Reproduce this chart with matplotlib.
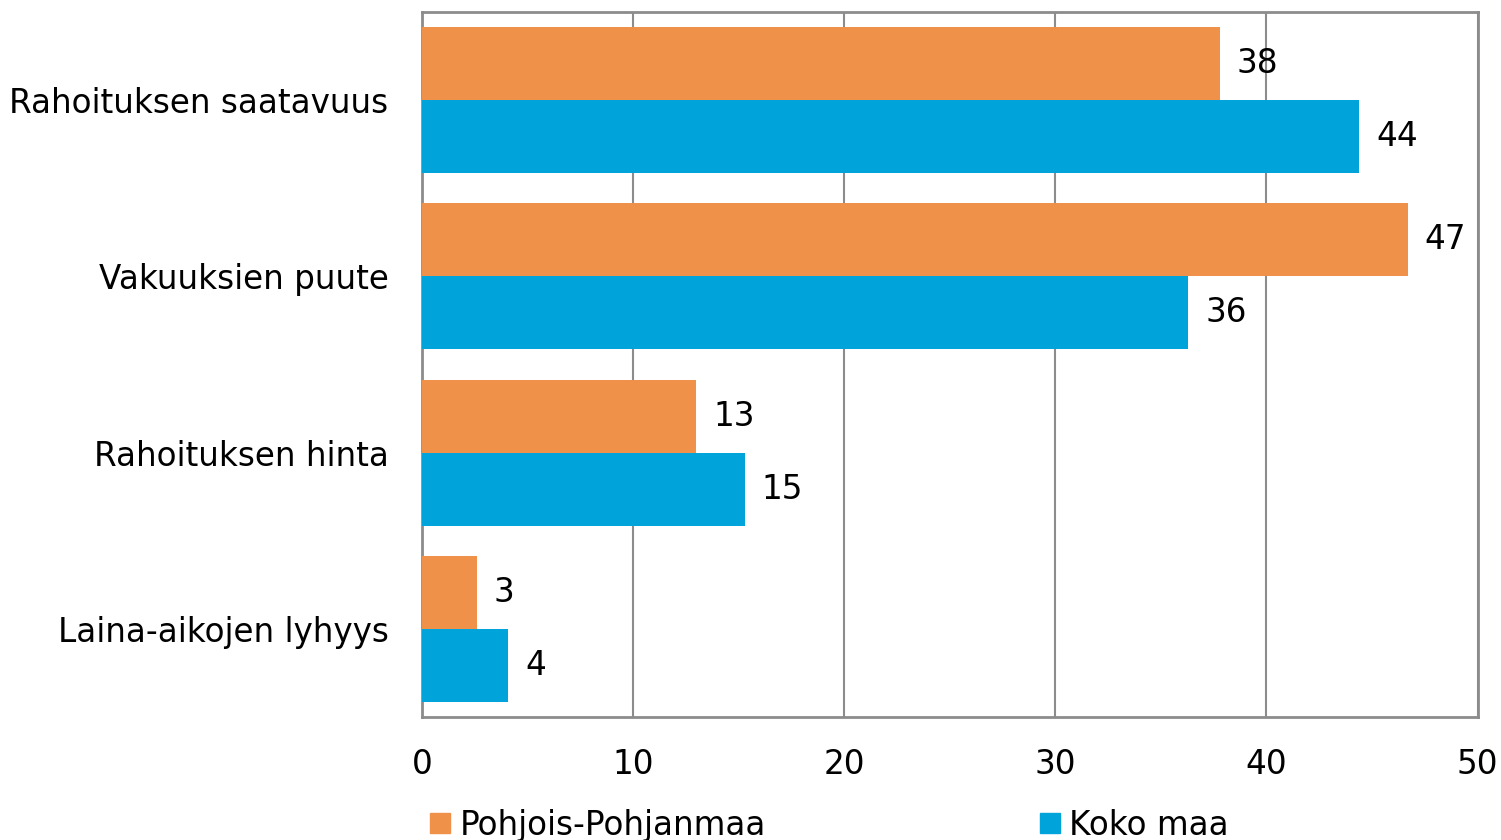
import numpy as np
import matplotlib.pyplot as plt
from matplotlib.patches import Rectangle

categories = ["Rahoituksen saatavuus", "Vakuuksien puute", "Rahoituksen hinta", "Laina-aikojen lyhyys"]
pohjois = [37.8, 46.7, 13.0, 2.6]
koko_maa = [44.4, 36.3, 15.3, 4.1]
series_names = ["Pohjois-Pohjanmaa", "Koko maa"]
colors = ["#F0914A", "#00A3DA"]
x_ticks = [0, 10, 20, 30, 40, 50]

plt.rcParams['font.family'] = ['DejaVu Sans']
fs = 23.5

fig = plt.figure(figsize=(15.01, 8.4), dpi=100)
ax = fig.add_axes([0.2811, 0.1464, 0.7033, 0.8393])

y = np.arange(len(categories))
h = 0.414
ax.barh(y - h / 2, pohjois, height=h, color=colors[0], zorder=3)
ax.barh(y + h / 2, koko_maa, height=h, color=colors[1], zorder=3)

# value labels, rounded like the source
for i in range(len(categories)):
    ax.text(pohjois[i] + 0.8, y[i] - h / 2, f"{pohjois[i]:.0f}", va='center', ha='left', fontsize=fs)
    ax.text(koko_maa[i] + 0.8, y[i] + h / 2, f"{koko_maa[i]:.0f}", va='center', ha='left', fontsize=fs)

ax.set_xlim(0, 50)
ax.set_ylim(len(categories) - 0.5, -0.5)
ax.set_xticks(x_ticks)
ax.set_xticklabels([str(t) for t in x_ticks], fontsize=fs)
ax.set_yticks(y)
ax.set_yticklabels(categories, fontsize=fs)
ax.tick_params(axis='x', length=0, pad=22)
ax.tick_params(axis='y', length=0, pad=24)
ax.grid(axis='x', color='#8c8c8c', linewidth=1.5, zorder=0)
for s in ax.spines.values():
    s.set_color('#8c8c8c')
    s.set_linewidth(2)

# legend at the bottom, clipped by the figure edge like the source
for name, c, x0 in zip(series_names, colors, [0.2868, 0.6929]):
    fig.patches.append(Rectangle((x0, 0.0083), 0.0133, 0.0238, transform=fig.transFigure,
                                 color=c, figure=fig))
    fig.text(x0 + 0.0193, 0.006, name, fontsize=fs, va='baseline', ha='left')

fig.savefig("out.png", dpi=100)
